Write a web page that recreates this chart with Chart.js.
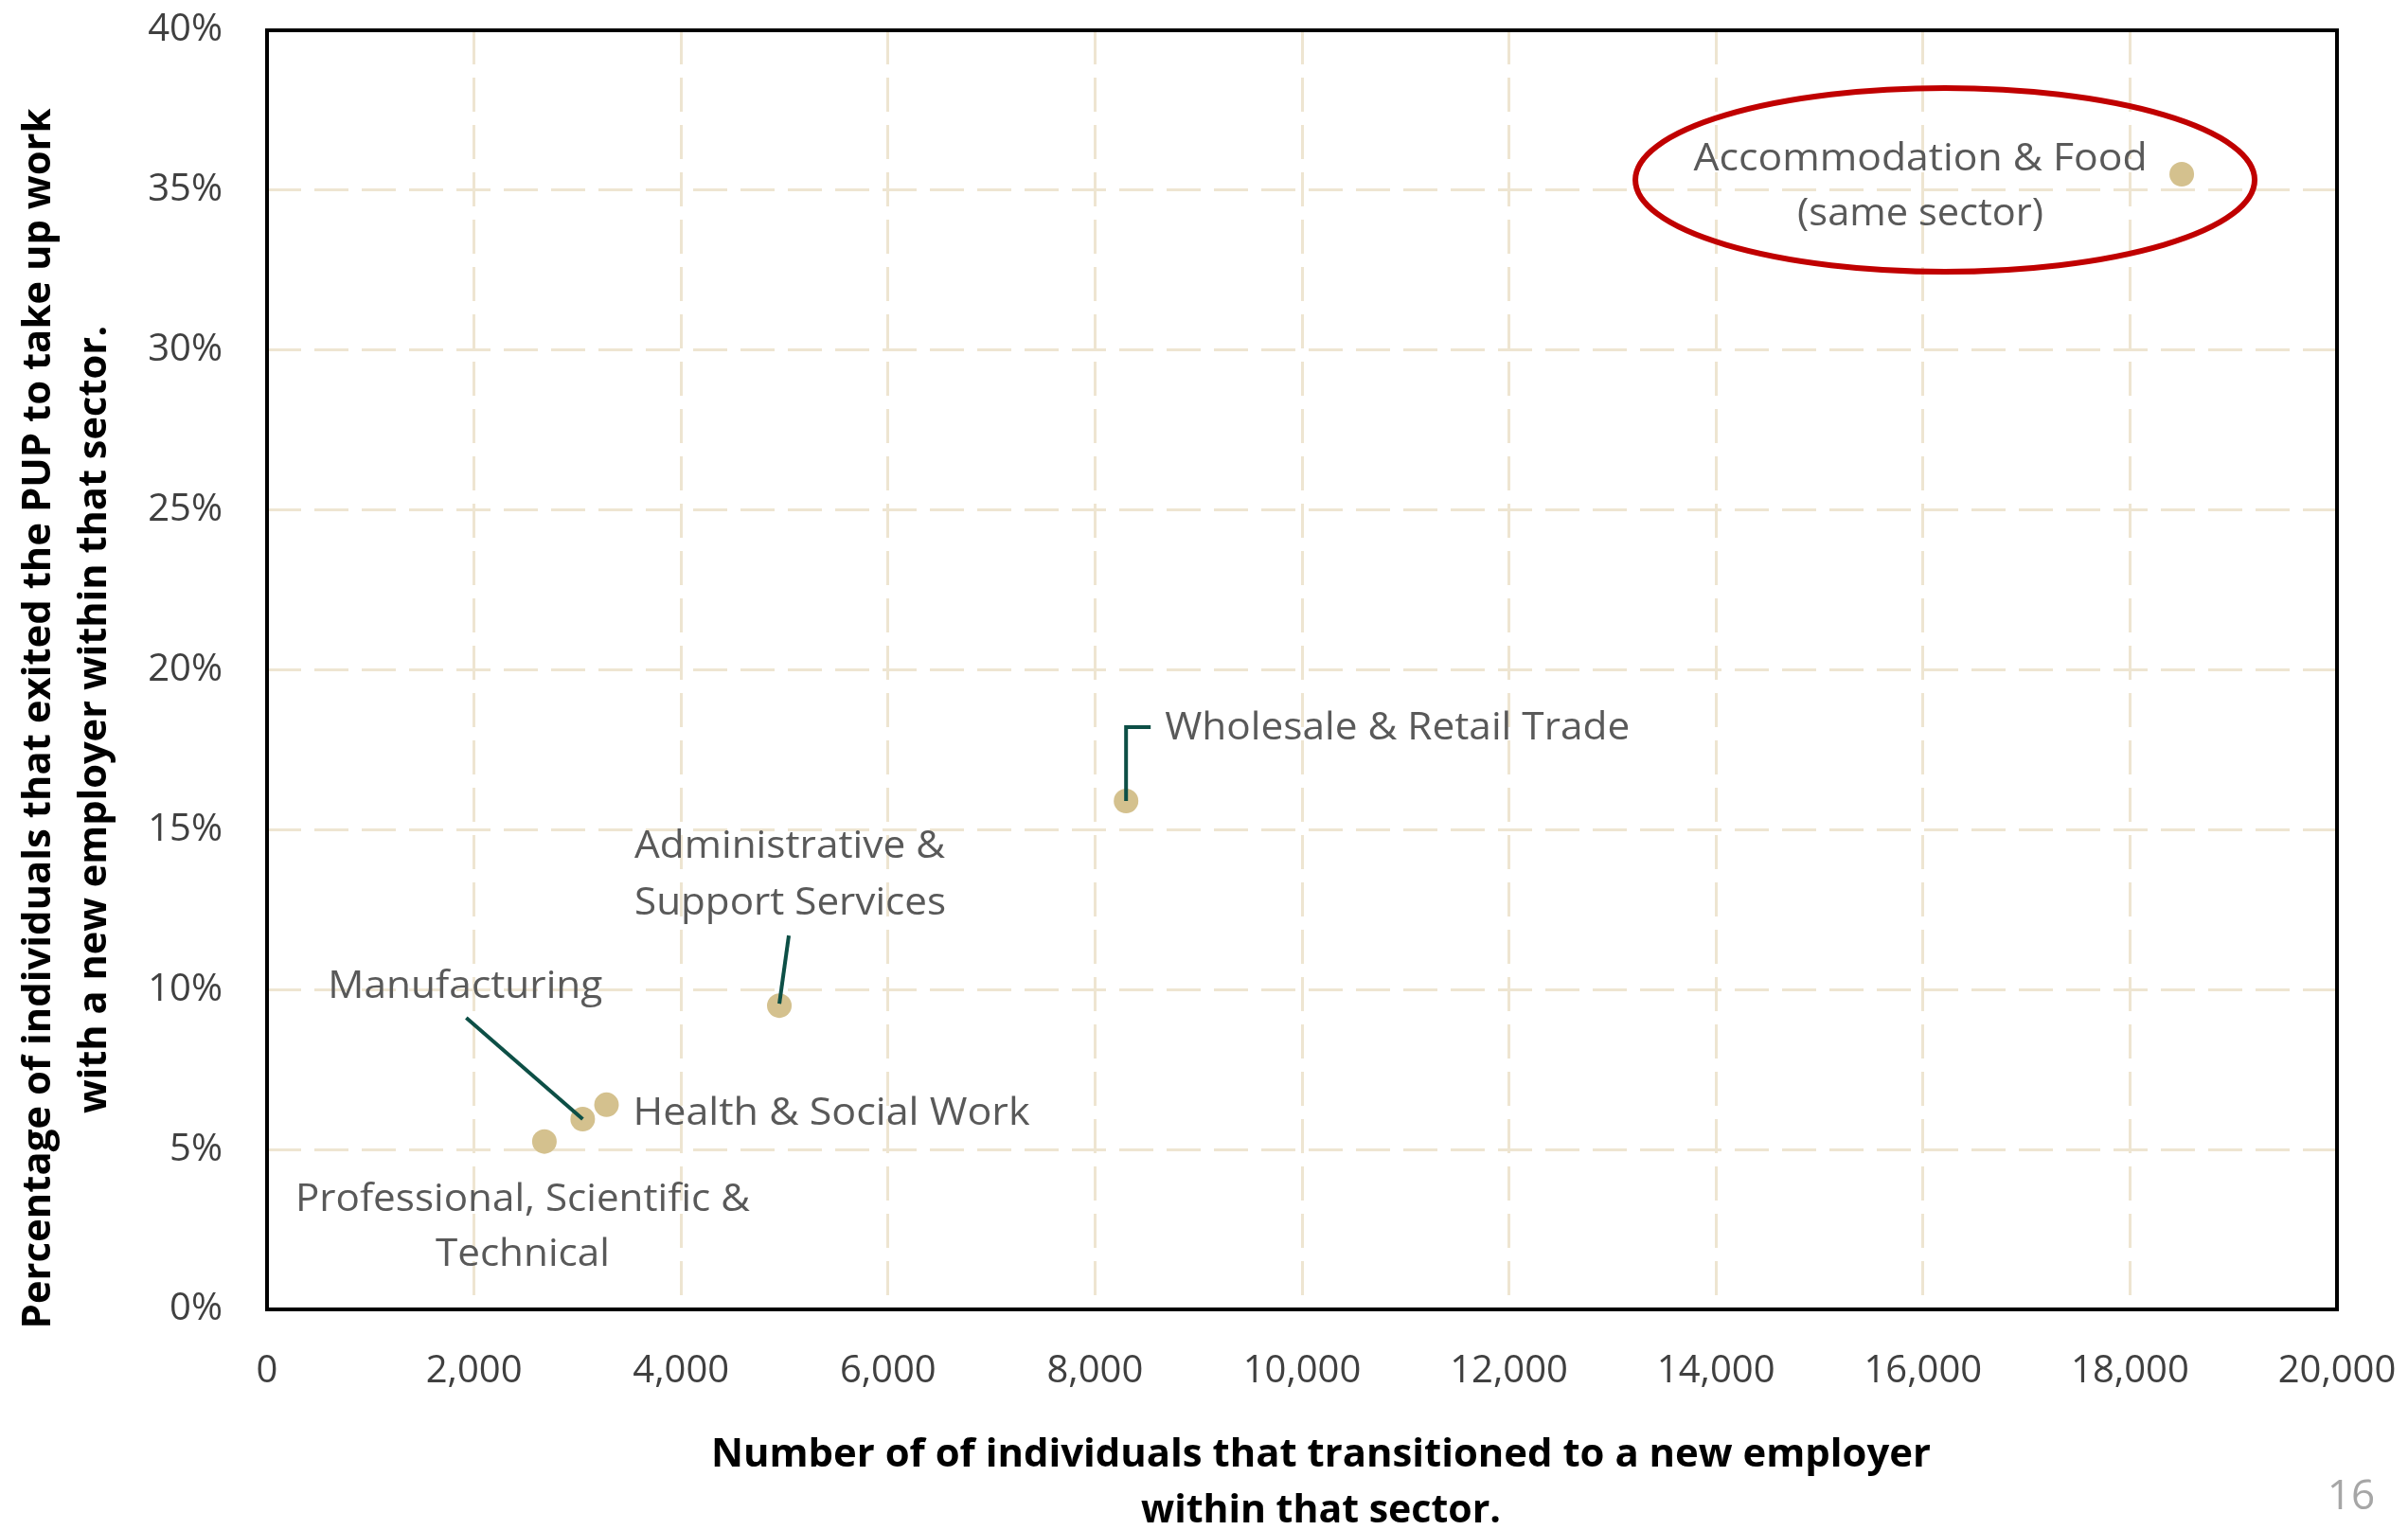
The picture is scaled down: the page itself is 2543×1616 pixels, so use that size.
<!DOCTYPE html>
<html>
<head>
<meta charset="utf-8">
<script src="https://cdn.jsdelivr.net/npm/chart.js@4.4.1/dist/chart.umd.min.js"></script>
<style>
  html, body { margin: 0; padding: 0; background: #fff; }
</style>
</head>
<body>
<canvas id="myChart" width="2543" height="1616"></canvas>
<script>
// data
var sectors = ['Accommodation & Food', 'Wholesale & Retail Trade', 'Administrative & Support Services',
               'Health & Social Work', 'Manufacturing', 'Professional, Scientific & Technical'];
var transitions = [18500, 8300, 4950, 3280, 3050, 2680];
var shareExited = [35.5, 15.9, 9.5, 6.4, 5.95, 5.25];
var labelLines = [
    ['Accommodation & Food', '(same sector)'],
    ['Wholesale & Retail Trade'],
    ['Administrative &', 'Support Services'],
    ['Health & Social Work'],
    ['Manufacturing'],
    ['Professional, Scientific &', 'Technical']
];
var xTickValues = [0, 2000, 4000, 6000, 8000, 10000, 12000, 14000, 16000, 18000, 20000];
var yTickValues = [0, 5, 10, 15, 20, 25, 30, 35, 40];
var xTitle = ['Number of of individuals that transitioned to a new employer', 'within that sector.'];
var yTitle = ['Percentage of individuals that exited the PUP to take up work', 'with a new employer within that sector.'];
var pageNumber = '16';

// where each label sits relative to its point (pixels)
var labelSpots = [
    { dx: -276, dy: [-15, 43], align: 'center', widths: [479, 260], ellipse: { dx: -250, dy: 6, rx: 327, ry: 97 } },
    { dx: 41, dy: [-76], align: 'left', widths: [491], leader: [[0, 0], [0, -78], [26, -78]] },
    { dx: -153, dy: [-168, -108], align: 'left', widths: [328, 329], leader: [[10, -74], [0, -2]] },
    { dx: 28, dy: [10], align: 'left', widths: [419] },
    { dx: -124, dy: [-139], align: 'center', widths: [290], leader: [[-123, -107], [0, 0]] },
    { dx: -23, dy: [62, 120], align: 'center', widths: [480, 184] }
];

var FONT = '"Open Sans", "Noto Sans", sans-serif';

function fitText(ctx, text, x, y, w, align) {
    var k = w / ctx.measureText(text).width;
    ctx.save();
    ctx.translate(x, y);
    ctx.scale(k, 1);
    ctx.textAlign = align;
    ctx.textBaseline = 'middle';
    ctx.fillText(text, 0, 0);
    ctx.restore();
}

function noPadding(scale) {
    scale.paddingTop = 0;
    scale.paddingBottom = 0;
    scale.paddingLeft = 0;
    scale.paddingRight = 0;
}

var frame = {
    id: 'frame',
    beforeDatasetsDraw: function (chart) {
        var a = chart.chartArea, ctx = chart.ctx;
        ctx.save();
        ctx.strokeStyle = '#000';
        ctx.lineWidth = 4;
        ctx.strokeRect(a.left, a.top, a.right - a.left, a.bottom - a.top);
        ctx.restore();
    }
};

var notes = {
    id: 'notes',
    afterDatasetsDraw: function (chart) {
        var ctx = chart.ctx;
        var xs = chart.scales.x, ys = chart.scales.y;
        ctx.save();
        labelSpots.forEach(function (s, i) {
            var px = xs.getPixelForValue(transitions[i]);
            var py = ys.getPixelForValue(shareExited[i]);
            if (s.leader) {
                ctx.strokeStyle = '#0D4F46';
                ctx.lineWidth = 4;
                ctx.beginPath();
                s.leader.forEach(function (p, j) {
                    if (j === 0) ctx.moveTo(px + p[0], py + p[1]);
                    else ctx.lineTo(px + p[0], py + p[1]);
                });
                ctx.stroke();
            }
            if (s.ellipse) {
                ctx.strokeStyle = '#C00000';
                ctx.lineWidth = 6;
                ctx.beginPath();
                ctx.ellipse(px + s.ellipse.dx, py + s.ellipse.dy, s.ellipse.rx, s.ellipse.ry, 0, 0, Math.PI * 2);
                ctx.stroke();
            }
            ctx.fillStyle = '#595959';
            ctx.font = '40px ' + FONT;
            labelLines[i].forEach(function (line, j) {
                fitText(ctx, line, px + s.dx, py + s.dy[j], s.widths[j], s.align);
            });
        });
        ctx.restore();
    }
};

var titles = {
    id: 'titles',
    afterDraw: function (chart) {
        var ctx = chart.ctx;
        ctx.save();
        ctx.fillStyle = '#000';
        ctx.font = 'bold 42px ' + FONT;
        fitText(ctx, xTitle[0], 1395, 1537, 1288, 'center');
        fitText(ctx, xTitle[1], 1395, 1596, 380, 'center');
        ctx.save();
        ctx.translate(41, 759);
        ctx.rotate(-Math.PI / 2);
        fitText(ctx, yTitle[0], 0, 0, 1289, 'center');
        ctx.restore();
        ctx.save();
        ctx.translate(100, 760);
        ctx.rotate(-Math.PI / 2);
        fitText(ctx, yTitle[1], 0, 0, 832, 'center');
        ctx.restore();
        ctx.fillStyle = '#A6A6A6';
        ctx.font = '44px ' + FONT;
        ctx.textAlign = 'center';
        ctx.textBaseline = 'middle';
        ctx.fillText(pageNumber, 2483, 1581);
        ctx.restore();
    }
};

var ctx = document.getElementById('myChart');
var chart = new Chart(ctx, {
    type: 'scatter',
    data: {
        labels: sectors,
        datasets: [{
            label: 'Sectors',
            data: transitions.map(function (x, i) { return { x: x, y: shareExited[i] }; }),
            backgroundColor: '#D4C18E',
            borderWidth: 0,
            pointRadius: 13,
            pointHoverRadius: 13
        }]
    },
    options: {
        responsive: false,
        animation: false,
        devicePixelRatio: 1,
        layout: { padding: { top: 32, right: 75, left: 0, bottom: 0 } },
        plugins: { legend: { display: false }, tooltip: { enabled: false } },
        scales: {
            x: {
                type: 'linear',
                min: 0,
                max: 20000,
                afterFit: function (scale) { scale.height = 233; noPadding(scale); },
                afterBuildTicks: function (scale) {
                    scale.ticks = xTickValues.map(function (v) { return { value: v }; });
                },
                grid: { color: '#EEE5D1', lineWidth: 3, drawTicks: false },
                border: { display: false, dash: [36, 14] },
                ticks: {
                    padding: 42,
                    maxRotation: 0,
                    autoSkip: false,
                    color: '#404040',
                    font: { family: FONT, size: 40 },
                    callback: function (v) { return v.toLocaleString('en-US'); }
                }
            },
            y: {
                type: 'linear',
                min: 0,
                max: 40,
                afterFit: function (scale) { scale.width = 282; noPadding(scale); },
                afterBuildTicks: function (scale) {
                    scale.ticks = yTickValues.map(function (v) { return { value: v }; });
                },
                grid: { color: '#EEE5D1', lineWidth: 3, drawTicks: false },
                border: { display: false, dash: [36, 14] },
                ticks: {
                    padding: 47,
                    autoSkip: false,
                    color: '#404040',
                    font: { family: FONT, size: 40 },
                    callback: function (v) { return v + '%'; }
                }
            }
        }
    },
    plugins: [frame, notes, titles]
});
</script>
</body>
</html>
